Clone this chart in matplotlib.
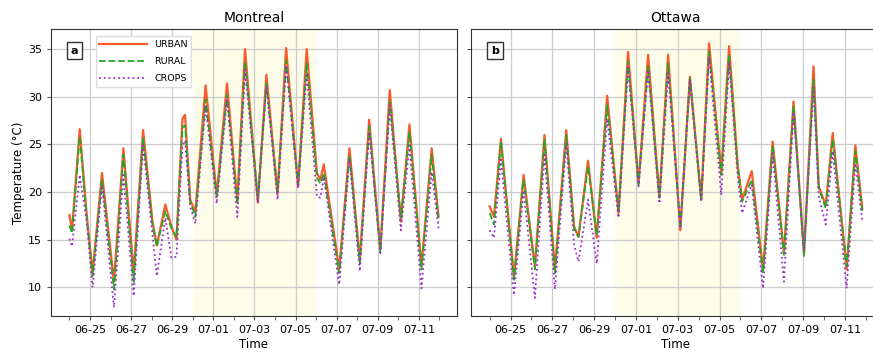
import numpy as np
import pandas as pd
import matplotlib
matplotlib.use("Agg")
import matplotlib.pyplot as plt
import matplotlib.dates as mdates

# hours after 2023-06-24 00:00 at daily min / max / shoulders
mtl_hours = [0, 3, 12, 20, 27, 38, 52, 63, 75, 86, 97, 102, 112, 119, 125, 132, 135,
             141, 147, 159, 172, 184, 196, 205, 220, 230, 243, 253, 267, 277, 289,
             293, 297, 315, 327, 339, 350, 363, 374, 387, 397, 411, 423, 431]
mtl_urban = [17.6, 16.0, 26.6, 17.8, 11.5, 22.0, 10.6, 24.6, 11.5, 26.5, 16.9, 14.4,
             18.7, 16.4, 15.0, 27.7, 28.1, 19.2, 17.9, 31.2, 19.7, 31.4, 19.0, 35.0,
             18.9, 32.3, 19.8, 35.1, 20.6, 35.0, 22.0, 21.3, 22.9, 11.9, 24.6, 12.9,
             27.6, 14.0, 30.7, 16.9, 27.1, 12.2, 24.6, 17.4]
mtl_rural = [16.5, 15.7, 25.8, 17.5, 11.2, 21.3, 9.8, 23.9, 10.6, 25.6, 16.5, 14.3,
             18.0, 16.2, 15.3, 26.8, 27.0, 19.0, 17.4, 29.7, 19.5, 30.2, 18.7, 33.7,
             19.4, 31.4, 20.0, 33.8, 20.8, 33.5, 21.5, 20.9, 22.0, 11.5, 23.9, 12.6,
             26.9, 13.7, 29.5, 17.3, 26.3, 11.9, 23.9, 16.9]
mtl_crops = [15.1, 14.3, 21.8, 17.0, 10.0, 20.7, 7.9, 21.8, 9.1, 24.9, 15.5, 11.2,
             17.3, 13.1, 13.2, 24.8, 25.4, 18.5, 16.7, 29.0, 18.8, 29.8, 17.4, 32.8,
             18.9, 31.2, 19.2, 33.3, 20.4, 32.5, 19.5, 19.4, 21.6, 10.3, 23.5, 11.7,
             26.3, 13.6, 29.1, 16.0, 24.9, 9.9, 22.1, 16.2]

ott_hours = [0, 5, 13, 28, 39, 52, 63, 75, 88, 97, 102, 113, 123, 135, 148, 159, 171,
             182, 195, 205, 219, 230, 243, 252, 266, 275, 285, 290, 301, 314, 325,
             338, 349, 361, 372, 378, 386, 394, 410, 420, 428]
ott_urban = [18.5, 17.4, 25.6, 11.1, 21.8, 12.2, 26.0, 11.9, 26.5, 16.4, 15.3, 23.3,
             15.2, 30.1, 17.8, 34.7, 20.9, 34.4, 19.5, 34.4, 16.0, 32.1, 19.2, 35.6,
             22.0, 35.3, 22.7, 19.2, 22.2, 11.9, 25.3, 13.6, 29.5, 13.6, 33.2, 20.6,
             18.6, 26.2, 11.9, 24.9, 18.3]
ott_rural = [17.8, 16.6, 25.3, 10.8, 21.3, 11.9, 25.5, 11.5, 26.0, 16.2, 15.3, 22.7,
             15.5, 29.1, 18.0, 33.7, 20.8, 33.2, 19.4, 33.5, 16.2, 31.9, 19.3, 34.7,
             21.8, 34.4, 22.5, 19.0, 21.3, 11.5, 24.8, 13.4, 29.0, 13.3, 31.8, 20.4,
             18.3, 25.5, 12.2, 24.3, 18.0]
ott_crops = [16.0, 15.2, 23.4, 9.2, 20.2, 8.9, 23.9, 9.8, 25.1, 14.5, 12.7, 19.2,
             12.5, 27.7, 17.3, 33.1, 20.6, 32.8, 18.8, 32.5, 16.4, 31.8, 19.0, 34.2,
             19.7, 33.7, 21.5, 17.8, 20.8, 9.9, 24.1, 10.6, 28.4, 13.8, 31.0, 19.5,
             16.6, 24.3, 9.9, 23.0, 16.9]

start = pd.Timestamp("2023-06-24 00:00")
heat_start = pd.Timestamp("2023-06-30")
heat_end = pd.Timestamp("2023-07-06")

c_urban = "#f95a2c"
c_rural = "#22a822"
c_crops = "#9a2ec4"

fig = plt.figure(figsize=(8.73, 3.54), dpi=100)
ax1 = fig.add_axes([0.0584, 0.1073, 0.4651, 0.8107])
ax2 = fig.add_axes([0.5395, 0.1073, 0.4696, 0.8107], sharey=ax1)

panels = [
    (ax1, "Montreal", "a", mtl_hours, mtl_urban, mtl_rural, mtl_crops),
    (ax2, "Ottawa", "b", ott_hours, ott_urban, ott_rural, ott_crops),
]

for ax, city, letter, hrs, urb, rur, crp in panels:
    t = start + pd.to_timedelta(hrs, unit="h")
    ax.axvspan(heat_start, heat_end, color="lightgoldenrodyellow", alpha=0.5, lw=0, zorder=0)
    ax.plot(t, urb, color=c_urban, lw=1.6, ls="-", label="URBAN", zorder=3)
    ax.plot(t, rur, color=c_rural, lw=1.3, ls="--", label="RURAL", zorder=4)
    ax.plot(t, crp, color=c_crops, lw=1.3, ls=":", label="CROPS", zorder=5)
    ax.set_title(city, fontsize=10, pad=5)
    ax.set_xlabel("Time", fontsize=8.5, labelpad=2)
    ax.xaxis.set_major_locator(mdates.DayLocator(bymonthday=range(1, 32, 2)))
    ax.xaxis.set_minor_locator(mdates.DayLocator())
    ax.xaxis.set_major_formatter(mdates.DateFormatter("%m-%d"))
    ax.tick_params(axis="both", which="both", labelsize=8, length=3, color="#555555")
    ax.grid(True, which="major", color="#cccccc", lw=0.9)
    ax.set_axisbelow(True)
    for s in ax.spines.values():
        s.set_color("#333333")
    ax.text(0.058, 0.925, letter, transform=ax.transAxes, fontsize=8, fontweight="bold",
            ha="center", va="center",
            bbox=dict(boxstyle="square,pad=0.35", fc="white", ec="#333333", lw=1))

ax1.set_ylim(7, 37.1)
ax1.set_yticks([10, 15, 20, 25, 30, 35])
ax1.set_ylabel("Temperature (°C)", fontsize=8.5, labelpad=2)
plt.setp(ax2.get_yticklabels(), visible=False)

ax1.legend(loc="upper left", bbox_to_anchor=(0.11, 0.975), borderaxespad=0,
           fontsize=6.8, handlelength=5.0, labelspacing=0.85, framealpha=1,
           edgecolor="#dddddd", fancybox=False)

fig.savefig("out.png", dpi=100)
